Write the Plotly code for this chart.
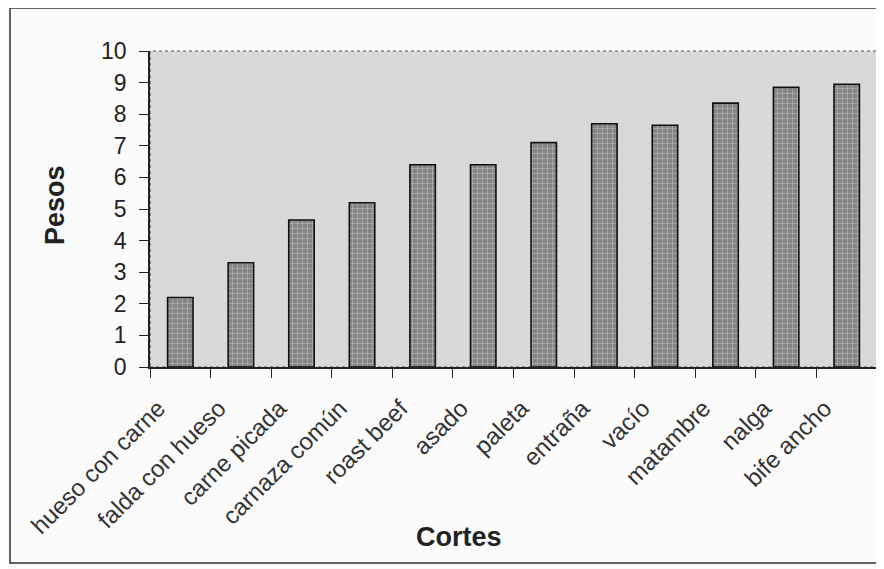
import plotly.graph_objects as go

cortes = ["hueso con carne", "falda con hueso", "carne picada", "carnaza común",
          "roast beef", "asado", "paleta", "entraña", "vacío", "matambre",
          "nalga", "bife ancho"]
pesos = [2.2, 3.3, 4.65, 5.2, 6.4, 6.4, 7.1, 7.7, 7.65, 8.35, 8.85, 8.95]
y_ticks = list(range(0, 11))

FONT = "Arial, Liberation Sans, sans-serif"

# page body has an 8px margin, so the figure is 8px smaller and starts at (8, 8)
W, H = 876, 561
L, R, T, B = 142, 7, 43, 202
pw, ph = W - L - R, H - T - B


def px(xp):  # page x pixel -> paper coordinate
    return (xp - 8 - L) / pw


def py(yp):  # page y pixel -> paper coordinate
    return (H - B - (yp - 8)) / ph


fig = go.Figure()
fig.add_trace(go.Bar(
    x=cortes, y=pesos, width=0.42,
    marker=dict(
        color="#858585",
        line=dict(color="#111111", width=1.6),
        pattern=dict(shape="+", fgcolor="#eeeeee", bgcolor="#858585",
                     size=5, solidity=0.22),
    ),
    hoverinfo="x+y",
))

fig.update_layout(
    width=W, height=H,
    margin=dict(l=L, r=R, t=T, b=B),
    paper_bgcolor="#fbfbfb",
    plot_bgcolor="#d9d9d9",
    showlegend=False,
    font=dict(family=FONT, color="#222222"),
)

fig.update_xaxes(
    type="category", tickangle=-45, tickson="boundaries",
    ticks="outside", ticklen=9, tickcolor="#222", tickwidth=1.3,
    showline=True, linecolor="#222", linewidth=1.5,
    showgrid=False, automargin=False,
    tickfont=dict(size=24, family=FONT, color="#333"),
    ticklabelstandoff=16, ticklabelshift=-22,
)
fig.update_yaxes(
    range=[0, 10], tickvals=y_ticks, ticks="outside", ticklen=9,
    tickcolor="#222", tickwidth=1.3,
    showline=True, linecolor="#222", linewidth=1.5,
    showgrid=False, zeroline=False, automargin=False,
    tickfont=dict(size=23, family=FONT, color="#222"),
    ticklabelstandoff=8,
)

# dotted border of plot area
fig.add_shape(type="rect", xref="paper", yref="paper", x0=0, x1=1, y0=0, y1=1,
              line=dict(color="#555", width=1.2, dash="dot"), layer="below")
# outer chart frame
fig.add_shape(type="rect", xref="paper", yref="paper",
              x0=px(10), x1=px(881), y0=py(563), y1=py(8),
              line=dict(color="#333", width=1.5))

fig.add_annotation(text="<b>Pesos</b>", xref="paper", yref="paper",
                   x=px(55), y=py(205), xanchor="center", yanchor="middle",
                   textangle=-90, showarrow=False,
                   font=dict(size=27, family=FONT, color="#222"))
fig.add_annotation(text="<b>Cortes</b>", xref="paper", yref="paper",
                   x=px(459), y=py(537), xanchor="center", yanchor="middle",
                   showarrow=False,
                   font=dict(size=27, family=FONT, color="#222"))

fig.write_html("out.html")
